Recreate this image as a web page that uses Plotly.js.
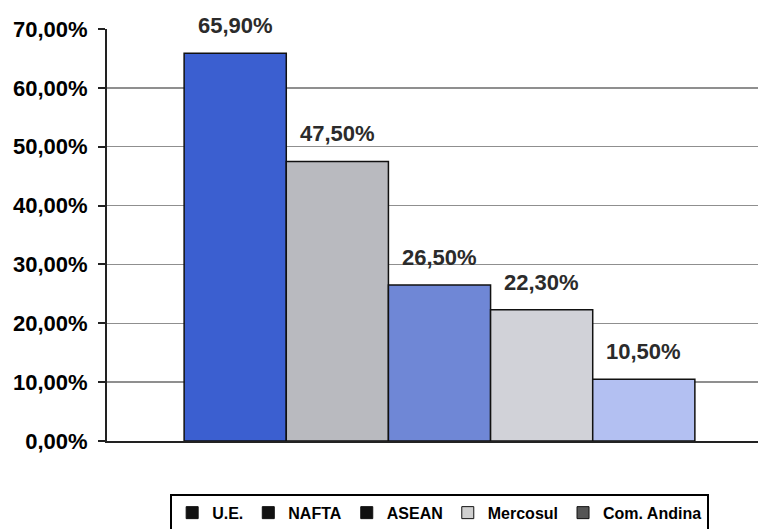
<!DOCTYPE html>
<html>
<head>
<meta charset="utf-8">
<script src="https://cdn.plot.ly/plotly-3.0.1.min.js"></script>
<style>html,body{margin:0;padding:0;background:#fff;}#chart{width:758px;height:529px;}</style>
</head>
<body>
<div id="chart"></div>
<script>
// Data
const categories = ["U.E.", "NAFTA", "ASEAN", "Mercosul", "Com. Andina"];
const values = [65.9, 47.5, 26.5, 22.3, 10.5];
const valueLabels = ["65,90%", "47,50%", "26,50%", "22,30%", "10,50%"];
const barColors = ["#3b5fd0", "#b9babf", "#6f87d6", "#d1d2d8", "#b3c0f2"];
const legendColors = ["#111111", "#111111", "#111111", "#cfcfcf", "#555555"];
const yTickVals = [0, 10, 20, 30, 40, 50, 60, 70];
const yTickLabels = ["0,00%", "10,00%", "20,00%", "30,00%", "40,00%", "50,00%", "60,00%", "70,00%"];

const traces = [];
categories.forEach((c, i) => {
  traces.push({
    type: "bar",
    x: [c],
    y: [values[i]],
    width: 1,
    marker: {color: barColors[i], line: {color: "#111", width: 1.5}},
    showlegend: false,
    hoverinfo: "skip"
  });
});
categories.forEach((c, i) => {
  traces.push({
    type: "bar",
    x: [null],
    y: [null],
    name: c,
    marker: {color: legendColors[i], line: {color: "#111", width: 1}},
    showlegend: true
  });
});

const annotations = categories.map((c, i) => ({
  x: c, y: values[i], xref: "x", yref: "y",
  text: valueLabels[i],
  showarrow: false, yanchor: "bottom", yshift: 13,
  font: {family: "Liberation Sans, Arial, sans-serif", size: 22, color: "#2b2b2b", weight: "bold"}
}));

const layout = {
  width: 758, height: 529,
  margin: {l: 107, r: 0, t: 29, b: 88, autoexpand: false},
  paper_bgcolor: "#fff", plot_bgcolor: "#fff",
  barmode: "overlay",
  bargap: 0,
  xaxis: {
    type: "category",
    categoryorder: "array", categoryarray: categories,
    range: [-1.255, 5.118],
    showticklabels: false, ticks: "",
    showgrid: false, zeroline: false,
    showline: true, linecolor: "#222", linewidth: 2
  },
  yaxis: {
    range: [0, 70],
    tickmode: "array",
    tickvals: yTickVals,
    ticktext: yTickLabels,
    ticks: "outside", ticklen: 7, tickcolor: "#222", tickwidth: 2,
    ticklabelstandoff: 6,
    showline: true, linecolor: "#222", linewidth: 2,
    showgrid: true, gridcolor: "#8f8f8f", gridwidth: 1.5,
    zeroline: false,
    automargin: false,
    tickfont: {family: "Liberation Sans, Arial, sans-serif", size: 22, color: "#000", weight: "bold"}
  },
  legend: {
    orientation: "h",
    x: 0.511, xanchor: "center",
    y: -0.128, yanchor: "top",
    bordercolor: "#000", borderwidth: 2,
    bgcolor: "#fff",
    font: {family: "Liberation Sans, Arial, sans-serif", size: 16, color: "#000", weight: "bold"},
    itemwidth: 30,
    traceorder: "normal"
  },
  annotations: annotations
};

Plotly.newPlot("chart", traces, layout, {displayModeBar: false, staticPlot: true});
</script>
</body>
</html>
